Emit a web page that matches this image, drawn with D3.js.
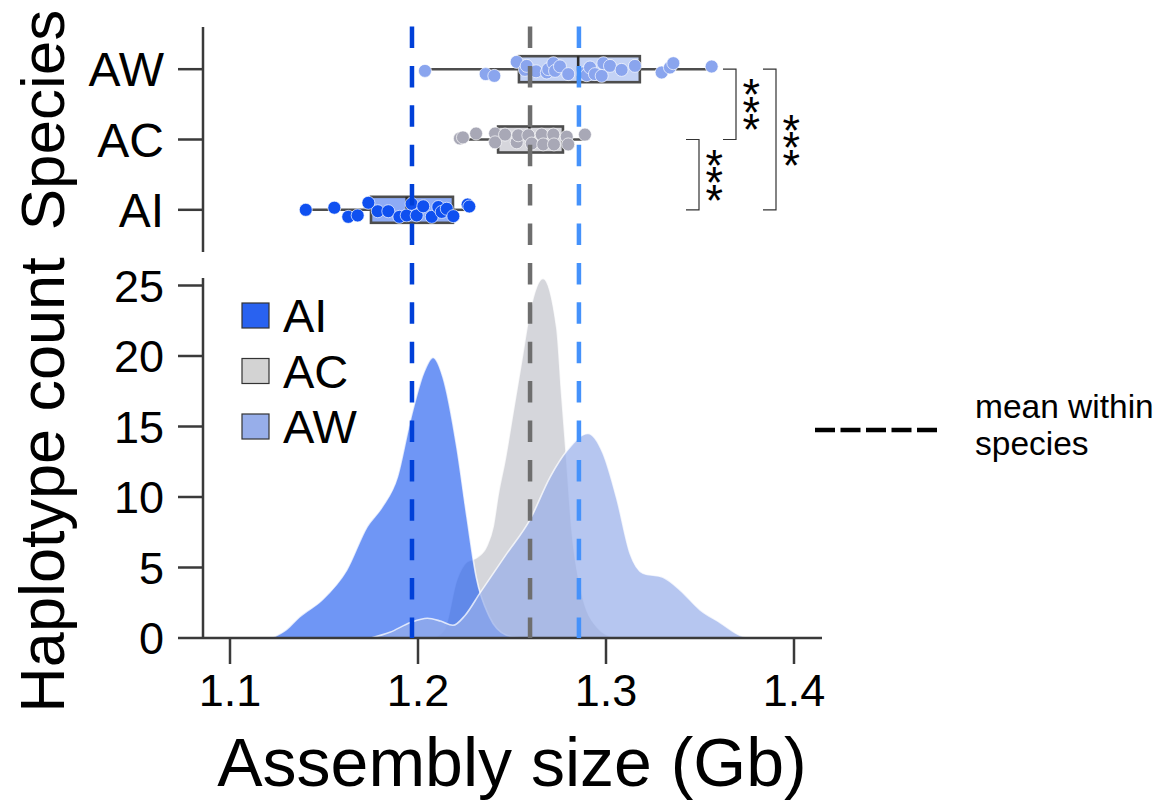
<!DOCTYPE html>
<html>
<head>
<meta charset="utf-8">
<script src="https://cdn.jsdelivr.net/npm/d3@7"></script>
<style>
  body { margin: 0; background: #fff; }
  svg { display: block; }
  text { font-family: "Liberation Sans", Arial, Helvetica, sans-serif; fill: #000; }
</style>
</head>
<body>
<svg id="chart" width="1157" height="802"></svg>
<script>
// ---- data ----
const species = ["AW", "AC", "AI"];          // top panel rows, top to bottom
const legendSpecies = ["AI", "AC", "AW"];
const xTickValues = [1.1, 1.2, 1.3, 1.4];
const countTickValues = [0, 5, 10, 15, 20, 25];

// box summaries in species order (AW, AC, AI), Gb
const whiskerLow  = [1.2037, 1.2223, 1.1404];
const quartile1   = [1.2537, 1.2426, 1.1750];
const medianSize  = [1.2852, 1.2592, 1.1940];
const quartile3   = [1.3180, 1.2771, 1.2186];
const whiskerHigh = [1.3564, 1.2888, 1.2266];
const speciesMean = [1.2856, 1.2596, 1.1968];

// individual haplotypes: [assembly size (Gb), jitter (fraction of row step)]
const awHaplotypes = [
  [1.2037, 0.024], [1.2360, 0.070], [1.2406, 0.095], [1.2525, -0.104], [1.2569, 0.010],
  [1.2578, -0.047], [1.2628, 0.030], [1.2685, 0.047], [1.2693, 0.000], [1.2720, -0.085],
  [1.2729, 0.024], [1.2755, -0.040], [1.2799, 0.070], [1.2879, 0.057], [1.2897, 0.085],
  [1.2915, -0.024], [1.2941, 0.070], [1.2977, 0.095], [1.2986, -0.085], [1.3021, -0.047],
  [1.3083, 0.010], [1.3154, -0.047], [1.3296, 0.047], [1.3340, -0.024], [1.3358, -0.085],
  [1.3562, -0.038]
];
const acHaplotypes = [
  [1.2223, -0.015], [1.2239, -0.030], [1.2309, -0.085], [1.2410, -0.085], [1.2410, 0.040],
  [1.2463, -0.070], [1.2525, 0.040], [1.2533, -0.060], [1.2587, -0.060], [1.2605, 0.057],
  [1.2658, -0.070], [1.2666, 0.070], [1.2720, -0.070], [1.2723, 0.070], [1.2791, -0.040],
  [1.2799, 0.070], [1.2888, -0.070]
];
const aiHaplotypes = [
  [1.1403, 0.000], [1.1555, -0.030], [1.1629, 0.100], [1.1679, 0.080], [1.1736, -0.100],
  [1.1786, 0.020], [1.1842, 0.020], [1.1901, 0.100], [1.1940, 0.080], [1.1966, -0.085],
  [1.1993, 0.080], [1.2028, -0.050], [1.2073, 0.100], [1.2108, -0.040], [1.2126, 0.030],
  [1.2153, -0.015], [1.2188, 0.090], [1.2264, -0.075], [1.2273, -0.047]
];

// smoothed haplotype counts: [assembly size (Gb), count]
const aiDensity = [
  [1.122, 0], [1.130, 0.6], [1.137, 1.5], [1.149, 2.7], [1.162, 4.8], [1.173, 7.9],
  [1.181, 9.3], [1.189, 11.4], [1.196, 15.5], [1.203, 18.8], [1.208, 19.9], [1.2133, 18.5],
  [1.2207, 13.5], [1.226, 8.6], [1.231, 4.3], [1.238, 1.5], [1.247, 0.2], [1.255, 0]
];
const acDensity = [
  [1.208, 0], [1.214, 0.6], [1.2205, 4.1], [1.2259, 5.4], [1.2312, 5.7], [1.2365, 6.5],
  [1.240, 7.9], [1.2427, 10.2], [1.2463, 12.6], [1.2507, 16.1], [1.2552, 19.7], [1.2596, 23.2],
  [1.2665, 25.5], [1.2738, 22.0], [1.2764, 17.3], [1.2791, 12.6], [1.2817, 7.9], [1.2871, 3.2],
  [1.2951, 0.8], [1.305, 0]
];
const awDensity = [
  [1.175, 0], [1.185, 0.4], [1.196, 1.1], [1.205, 1.4], [1.212, 1.2], [1.2186, 0.9],
  [1.225, 1.6], [1.233, 3.2], [1.2473, 6.0], [1.2596, 8.4], [1.2702, 11.4], [1.2793, 13.3],
  [1.2904, 14.5], [1.2984, 13.1], [1.3059, 9.8], [1.3128, 6.0], [1.3197, 4.6], [1.3303, 4.3],
  [1.3394, 3.4], [1.350, 2.0], [1.3606, 1.1], [1.373, 0.1], [1.378, 0]
];

// pairwise tests between species
const comparisons = [["AW", "AC"], ["AC", "AI"], ["AW", "AI"]];
const comparisonLabels = ["***", "***", "***"];

// ---- styles ----
const paletteColor = { AI: "#2962f0", AC: "#d3d3d3", AW: "#97aeea" };
const densityColor = { AI: "#2962f0", AC: "#c3c4cc", AW: "#97aeea" };
const boxFill = { AI: "#8eabf5", AC: "#d6d6dc", AW: "#c3d2f5" };
const dotColor = { AI: "#0f50f0", AC: "#a8a8b6", AW: "#8aa5ee" };
const meanColor = { AI: "#0040d8", AC: "#6e6e6e", AW: "#4592fb" };
const axisColor = "#3a3a3a";

const haplotypes = { AW: awHaplotypes, AC: acHaplotypes, AI: aiHaplotypes };
const densities = { AI: aiDensity, AC: acDensity, AW: awDensity };

// ---- layout ----
const svg = d3.select("#chart");
const x = d3.scaleLinear().domain([1.1, 1.4]).range([230, 794]);
const yCount = d3.scaleLinear().domain([0, 25]).range([638, 285.5]);
const ySpecies = d3.scalePoint().domain(species).range([27, 252]).padding(0.6);
const rowStep = ySpecies.step();

const spineX = 203;
const xAxisY = yCount(0);

// ---- density panel ----
const area = d3.area()
  .x(d => x(d[0]))
  .y0(yCount(0))
  .y1(d => yCount(d[1]))
  .curve(d3.curveMonotoneX);

const densityOrder = ["AC", "AI", "AW"];
svg.append("g").selectAll("path")
  .data(densityOrder)
  .join("path")
  .attr("d", s => area(densities[s]))
  .attr("fill", s => densityColor[s])
  .attr("fill-opacity", s => s === "AI" ? 0.67 : 0.7)
  .attr("stroke", "#ffffff")
  .attr("stroke-opacity", 0.75)
  .attr("stroke-width", 1.6);

// left spine + ticks of the count axis
const countAxis = svg.append("g");
countAxis.append("line")
  .attr("x1", spineX).attr("x2", spineX)
  .attr("y1", 278).attr("y2", xAxisY)
  .attr("stroke", axisColor).attr("stroke-width", 2.5);
countAxis.selectAll("line.tick")
  .data(countTickValues).join("line")
  .attr("class", "tick")
  .attr("x1", 178).attr("x2", spineX)
  .attr("y1", d => yCount(d)).attr("y2", d => yCount(d))
  .attr("stroke", axisColor).attr("stroke-width", 2.5);
countAxis.selectAll("text")
  .data(countTickValues).join("text")
  .attr("x", 164).attr("y", d => yCount(d))
  .attr("dy", "0.36em")
  .attr("text-anchor", "end")
  .attr("font-size", 45)
  .text(d => d);

// bottom axis
const xAxisG = svg.append("g");
xAxisG.append("line")
  .attr("x1", spineX).attr("x2", 822)
  .attr("y1", xAxisY).attr("y2", xAxisY)
  .attr("stroke", axisColor).attr("stroke-width", 2.5);
xAxisG.selectAll("line.tick")
  .data(xTickValues).join("line")
  .attr("class", "tick")
  .attr("x1", d => x(d)).attr("x2", d => x(d))
  .attr("y1", xAxisY).attr("y2", xAxisY + 26)
  .attr("stroke", axisColor).attr("stroke-width", 2.5);
xAxisG.selectAll("text")
  .data(xTickValues).join("text")
  .attr("x", d => x(d)).attr("y", 706)
  .attr("text-anchor", "middle")
  .attr("font-size", 45)
  .text(d => d3.format(".1f")(d));

// ---- box / strip panel ----
const speciesAxis = svg.append("g");
speciesAxis.append("line")
  .attr("x1", spineX).attr("x2", spineX)
  .attr("y1", 27).attr("y2", 252)
  .attr("stroke", axisColor).attr("stroke-width", 2.5);
speciesAxis.selectAll("line.tick")
  .data(species).join("line")
  .attr("class", "tick")
  .attr("x1", 178).attr("x2", spineX)
  .attr("y1", d => ySpecies(d)).attr("y2", d => ySpecies(d))
  .attr("stroke", axisColor).attr("stroke-width", 2.5);
speciesAxis.selectAll("text")
  .data(species).join("text")
  .attr("x", 164).attr("y", d => ySpecies(d))
  .attr("dy", "0.36em")
  .attr("text-anchor", "end")
  .attr("font-size", 48)
  .text(d => d);

const boxHalf = 13;
const boxes = svg.append("g");
species.forEach((s, i) => {
  const cy = ySpecies(s);
  const g = boxes.append("g");
  g.append("line")
    .attr("x1", x(whiskerLow[i])).attr("x2", x(quartile1[i]))
    .attr("y1", cy).attr("y2", cy)
    .attr("stroke", "#4d4d4d").attr("stroke-width", 2.5);
  g.append("line")
    .attr("x1", x(quartile3[i])).attr("x2", x(whiskerHigh[i]))
    .attr("y1", cy).attr("y2", cy)
    .attr("stroke", "#4d4d4d").attr("stroke-width", 2.5);
  g.append("rect")
    .attr("x", x(quartile1[i])).attr("y", cy - boxHalf)
    .attr("width", x(quartile3[i]) - x(quartile1[i]))
    .attr("height", boxHalf * 2)
    .attr("fill", boxFill[s])
    .attr("stroke", "#4d4d4d").attr("stroke-width", 2.6);
  g.append("line")
    .attr("x1", x(medianSize[i])).attr("x2", x(medianSize[i]))
    .attr("y1", cy - boxHalf).attr("y2", cy + boxHalf)
    .attr("stroke", "#2a2a2a").attr("stroke-width", 2.6);
});

const dots = svg.append("g");
species.forEach(s => {
  dots.append("g").selectAll("circle")
    .data(haplotypes[s]).join("circle")
    .attr("cx", d => x(d[0]))
    .attr("cy", d => ySpecies(s) + d[1] * rowStep)
    .attr("r", 6.5)
    .attr("fill", dotColor[s])
    .attr("stroke", "#ffffff")
    .attr("stroke-opacity", 0.85)
    .attr("stroke-width", 0.8);
});

// significance brackets; the stars run down the bracket, each glyph kept upright
const bracketX = { "AW-AC": 736, "AC-AI": 699, "AW-AI": 776 };
const starSize = 45;
const starAdvance = 0.389 * starSize;
const sig = svg.append("g");
comparisons.forEach((pair, i) => {
  const key = pair.join("-");
  const bx = bracketX[key];
  const yA = ySpecies(pair[0]);
  const yB = ySpecies(pair[1]);
  sig.append("path")
    .attr("d", `M${bx - 13},${yA}H${bx}V${yB}H${bx - 13}`)
    .attr("fill", "none")
    .attr("stroke", "#333")
    .attr("stroke-width", 1.2);
  const mid = (yA + yB) / 2;
  const starX = bx + 15;
  const label = comparisonLabels[i];
  // glyph centre sits ~0.19em right of its origin and ~0.58em above the baseline
  const ax = starX - 0.19 * starSize;
  const ay = mid + 6 + 0.58 * starSize - 0.19 * starSize - starAdvance * (label.length - 1) / 2;
  sig.append("text")
    .attr("transform", `translate(${ax},${ay}) rotate(90)`)
    .attr("rotate", label.split("").map(() => -90).join(" "))
    .attr("font-size", starSize)
    .text(label);
});

// mean lines across both panels
svg.append("g").selectAll("line")
  .data(species).join("line")
  .attr("x1", (s, i) => x(speciesMean[i]))
  .attr("x2", (s, i) => x(speciesMean[i]))
  .attr("y1", 26.5).attr("y2", xAxisY)
  .attr("stroke", s => meanColor[s])
  .attr("stroke-width", 4.5)
  .attr("stroke-dasharray", "21.5,17.9");

// ---- legends ----
const legend = svg.append("g");
legendSpecies.forEach((s, i) => {
  const ly = 303 + i * 55.5;
  legend.append("rect")
    .attr("x", 242).attr("y", ly)
    .attr("width", 27).attr("height", 25)
    .attr("fill", paletteColor[s])
    .attr("stroke", "#333").attr("stroke-width", 1.2);
  legend.append("text")
    .attr("x", 283).attr("y", ly + 12.5)
    .attr("dy", "0.36em")
    .attr("font-size", 47)
    .text(s);
});

const meanLegend = svg.append("g");
meanLegend.append("line")
  .attr("x1", 815).attr("x2", 937)
  .attr("y1", 430).attr("y2", 430)
  .attr("stroke", "#000").attr("stroke-width", 4.5)
  .attr("stroke-dasharray", "20,5.5");
meanLegend.append("text")
  .attr("x", 975).attr("y", 418)
  .attr("font-size", 33.5)
  .text("mean within");
meanLegend.append("text")
  .attr("x", 975).attr("y", 455)
  .attr("font-size", 33.5)
  .text("species");

// ---- axis titles ----
svg.append("text")
  .attr("transform", "translate(64,120) rotate(-90)")
  .attr("text-anchor", "middle")
  .attr("font-size", 62)
  .text("Species");
svg.append("text")
  .attr("transform", "translate(64,485) rotate(-90)")
  .attr("text-anchor", "middle")
  .attr("font-size", 63)
  .text("Haplotype count");
svg.append("text")
  .attr("x", 512).attr("y", 786)
  .attr("text-anchor", "middle")
  .attr("font-size", 68)
  .text("Assembly size (Gb)");
</script>
</body>
</html>
